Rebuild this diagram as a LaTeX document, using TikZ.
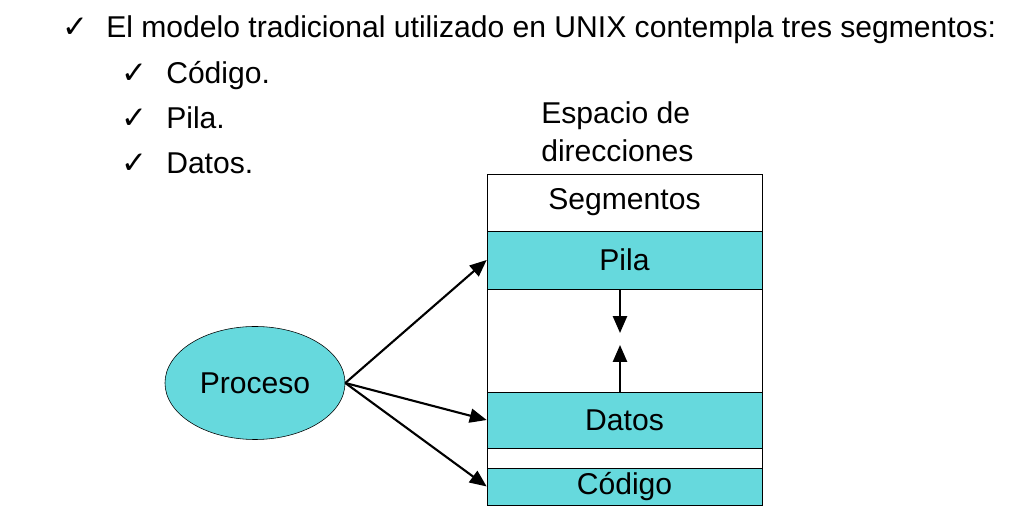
\documentclass[tikz,border=0pt]{standalone}
\usepackage{fontspec}
\setmainfont{Liberation Sans}
\newfontfamily\symfont{DejaVu Sans}
\usetikzlibrary{arrows.meta,shapes.geometric}
\definecolor{segcyan}{RGB}{102,217,221}
\begin{document}
\begin{tikzpicture}[
        x=0.025cm, y=-0.025cm,
        seg/.style={
            draw,
            fill=segcyan,
            minimum width=6.875cm,
            inner sep=0pt,
            font=\fontsize{21.4}{25}\selectfont
        },
        txt/.style={
            anchor=base west,
            inner sep=0pt,
            font=\fontsize{21.4}{25}\selectfont
        },
        chk/.style={
            anchor=base west,
            inner sep=0pt,
            font=\symfont\fontsize{22}{26}\selectfont
        },
        arr/.style={
            -{Triangle[length=12pt,width=10pt]},
            line width=1.5pt
        }
    ]
        \useasboundingbox (0,0) rectangle (1035,523);

        % bullet list
        \node[chk] (c0) at (62,38) {✓};
        \node[txt] (t0) at (106,38)
            {El modelo tradicional utilizado en UNIX contempla tres segmentos:};
        \node[chk] (c1) at (121,84) {✓};
        \node[chk] (c2) at (121,129) {✓};
        \node[chk] (c3) at (121,174) {✓};
        \node[txt] (t1) at (166,84) {Código.};
        \node[txt] (t2) at (166,129) {Pila.};
        \node[txt] (t3) at (166,174) {Datos.};

        % address space
        \node[txt, anchor=north west, align=left,
              font=\fontsize{21.4}{27}\selectfont] (title) at (541,101)
            {Espacio de\\direcciones};
        \node[seg, fill=white, minimum height=1.425cm] (segm) at (624.5,202.5) {Segmentos};
        \node[seg, minimum height=1.45cm] (pila) at (624.5,260) {Pila};
        \node[seg, fill=white, minimum height=2.575cm] (hueco) at (624.5,340.5) {};
        \node[seg, minimum height=1.4cm] (datos) at (624.5,420) {Datos};
        \node[seg, fill=white, minimum height=0.5cm] (sep) at (624.5,458) {};
        \node[seg, minimum height=0.925cm] (codigo) at (624.5,486.5) {Código};

        \node[draw, ellipse, fill=segcyan, minimum width=4.5cm, minimum height=2.825cm,
              font=\fontsize{21.4}{25}\selectfont] (proc) at (255,383) {Proceso};

        \coordinate (pilafin) at (620,333);
        \coordinate (datosfin) at (620,345);

        \draw[arr] (proc.east) -- (pila.west);
        \draw[arr] (proc.east) -- (datos.west);
        \draw[arr] (proc.east) -- (codigo.west);
        \draw[arr] (pila.south -| pilafin) -- (pilafin);
        \draw[arr] (datos.north -| datosfin) -- (datosfin);
    \end{tikzpicture}
\end{document}
